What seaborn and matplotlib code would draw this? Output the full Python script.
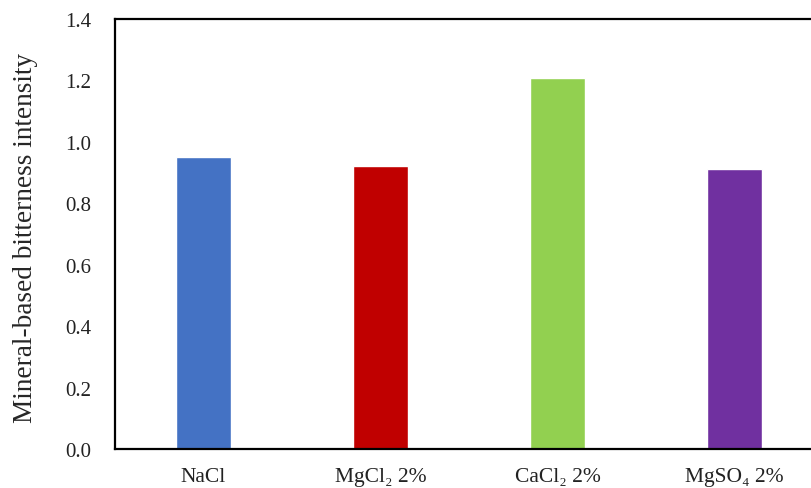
import pandas as pd
import matplotlib.pyplot as plt
import seaborn as sns

labels = ["NaCl", "MgCl\u2082 2%", "CaCl\u2082 2%", "MgSO\u2084 2%"]
values = [0.951, 0.921, 1.208, 0.912]
colors = ["#4472C4", "#C00000", "#92D050", "#7030A0"]

df = pd.DataFrame({"salt": labels, "value": values})

sns.set_style("white")
plt.rcParams["font.family"] = ["Liberation Serif", "DejaVu Serif"]

fig = plt.figure(figsize=(8.11, 4.89), dpi=100)
ax = fig.add_axes([115 / 811, 39 / 489, 708 / 811, 430 / 489])
sns.barplot(data=df, x="salt", y="value", hue="salt", palette=colors,
            width=0.316, saturation=1, legend=False, ax=ax)

ax.set_xlim(-0.5, 3.5)
ax.set_ylim(0, 1.4)
ax.set_yticks([0, 0.2, 0.4, 0.6, 0.8, 1.0, 1.2, 1.4])
ax.set_yticklabels([f"{t:.1f}" for t in ax.get_yticks()])
ax.tick_params(axis="y", length=0, labelsize=15, colors="#222222", pad=17)
ax.tick_params(axis="x", length=0, labelsize=15.5, colors="#222222", pad=13)
ax.set_xlabel("")
ax.set_ylabel("Mineral-based bitterness intensity", size=19.6)
ax.yaxis.set_label_coords(-0.109, 0.493)
for s in ax.spines.values():
    s.set_color("black")
    s.set_linewidth(1.6)

fig.savefig("out.png", dpi=100)
